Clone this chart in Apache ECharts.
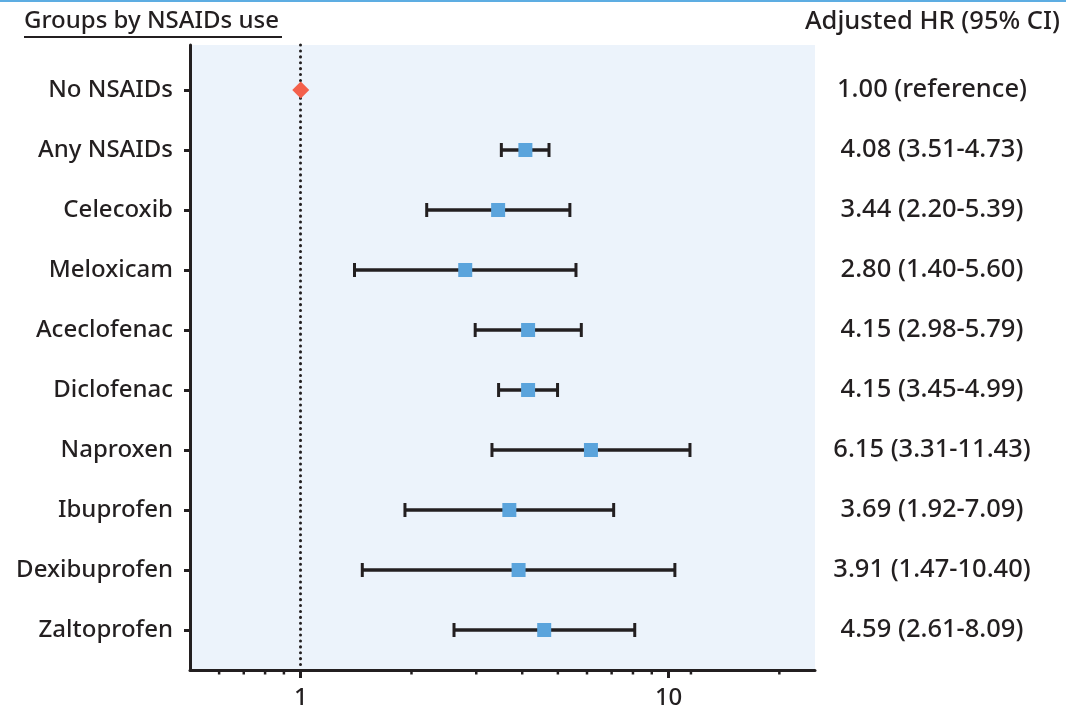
<!DOCTYPE html>
<html>
<head>
<meta charset="utf-8">
<script src="https://cdn.jsdelivr.net/npm/echarts@6/dist/echarts.min.js"></script>
<style>html,body{margin:0;padding:0;background:#fff;}#c{width:1066px;height:711px;}</style>
</head>
<body>
<div id="c"></div>
<script>
const categories = ['No NSAIDs','Any NSAIDs','Celecoxib','Meloxicam','Aceclofenac','Diclofenac','Naproxen','Ibuprofen','Dexibuprofen','Zaltoprofen'];
const hr   = [1.00, 4.08, 3.44, 2.80, 4.15, 4.15, 6.15, 3.69, 3.91, 4.59];
const low  = [null, 3.51, 2.20, 1.40, 2.98, 3.45, 3.31, 1.92, 1.47, 2.61];
const high = [null, 4.73, 5.39, 5.60, 5.79, 4.99, 11.43, 7.09, 10.40, 8.09];
const hrText = ['1.00 (reference)','4.08 (3.51-4.73)','3.44 (2.20-5.39)','2.80 (1.40-5.60)','4.15 (2.98-5.79)','4.15 (3.45-4.99)','6.15 (3.31-11.43)','3.69 (1.92-7.09)','3.91 (1.47-10.40)','4.59 (2.61-8.09)'];
const xMajorTicks = [1, 10];
const xMinorTicks = [0.6, 0.7, 0.8, 0.9, 2, 3, 4, 5, 6, 7, 8, 9, 11.5, 20];
const xMin = 0.5, xMax = 25;
const yMin = -0.75, yMax = 9.667;

const FONT = 'Noto Sans';
const FS = 24;
const FW = 500;
const INK = '#231f20';
const idx = categories.map((_, i) => i);

const chart = echarts.init(document.getElementById('c'));

const ciData = [];
for (let i = 0; i < categories.length; i++) {
  if (low[i] != null) ciData.push([low[i], high[i], i]);
}
const refData = [[hr[0], 0]];
const ptData = [];
for (let i = 1; i < categories.length; i++) ptData.push([hr[i], i]);

chart.setOption({
  animation: false,
  backgroundColor: '#fff',
  textStyle: { fontFamily: FONT },
  grid: { left: 190, right: 251, top: 45, bottom: 41, show: true, backgroundColor: '#ECF3FB', borderWidth: 0 },
  xAxis: {
    type: 'log', logBase: 10, min: xMin, max: xMax,
    axisLine: { show: true, onZero: false, lineStyle: { color: INK, width: 3 } },
    axisTick: { show: true, customValues: xMajorTicks, length: 8, lineStyle: { color: INK, width: 3 } },
    axisLabel: { customValues: xMajorTicks, fontSize: FS, fontWeight: FW, color: INK, fontFamily: FONT, margin: 16 },
    splitLine: { show: false }
  },
  yAxis: [{
    type: 'value', min: yMin, max: yMax, inverse: true, position: 'left',
    axisLine: { show: true, onZero: false, lineStyle: { color: INK, width: 3 } },
    axisTick: { show: true, customValues: idx, length: 6, lineStyle: { color: INK, width: 3 } },
    axisLabel: { customValues: idx, formatter: v => categories[Math.round(v)], fontSize: FS, fontWeight: FW, color: INK, fontFamily: FONT, margin: 17 },
    splitLine: { show: false }
  }, {
    type: 'value', min: yMin, max: yMax, inverse: true, position: 'right',
    axisLine: { show: false }, axisTick: { show: false },
    axisLabel: { customValues: idx, formatter: v => hrText[Math.round(v)], fontSize: 25.5, fontWeight: FW, color: INK, fontFamily: FONT, margin: 117, align: 'center' },
    splitLine: { show: false }
  }],
  series: [{
    type: 'custom',
    xAxisIndex: 0, yAxisIndex: 0,
    clip: false,
    silent: true,
    data: xMinorTicks.map(v => [v, yMax]),
    renderItem: function (params, api) {
      const p = api.coord([api.value(0), api.value(1)]);
      return { type: 'line', shape: { x1: p[0], y1: p[1], x2: p[0], y2: p[1] + 4.5 }, style: { stroke: INK, lineWidth: 2.5 } };
    },
    z: 5
  }, {
    type: 'custom',
    xAxisIndex: 0, yAxisIndex: 0,
    data: ciData,
    renderItem: function (params, api) {
      const a = api.coord([api.value(0), api.value(2)]);
      const b = api.coord([api.value(1), api.value(2)]);
      const h = 7;
      return {
        type: 'group',
        children: [
          { type: 'line', shape: { x1: a[0], y1: a[1], x2: b[0], y2: b[1] }, style: { stroke: INK, lineWidth: 3.5 } },
          { type: 'line', shape: { x1: a[0], y1: a[1] - h, x2: a[0], y2: a[1] + h }, style: { stroke: INK, lineWidth: 3 } },
          { type: 'line', shape: { x1: b[0], y1: b[1] - h, x2: b[0], y2: b[1] + h }, style: { stroke: INK, lineWidth: 3 } }
        ]
      };
    },
    z: 3
  }, {
    type: 'scatter',
    data: refData,
    symbol: 'diamond', symbolSize: 17,
    itemStyle: { color: '#F4604B', opacity: 1 },
    z: 4,
    markLine: {
      silent: true, symbol: 'none', label: { show: false },
      lineStyle: { color: INK, width: 3, type: [0.1, 5.8], cap: 'round' },
      data: [{ xAxis: 1 }],
      z: 2
    }
  }, {
    type: 'scatter',
    data: ptData,
    symbol: 'rect', symbolSize: 14,
    itemStyle: { color: '#5BA4DC', opacity: 1 },
    z: 4
  }],
  graphic: [
    { type: 'rect', left: 0, top: 0, shape: { width: 1066, height: 2 }, style: { fill: '#5DADE2' } },
    { type: 'text', left: 24, top: 9, style: { text: 'Groups by NSAIDs use', font: '500 24px "Noto Sans"', fill: INK } },
    { type: 'rect', left: 24, top: 36, shape: { width: 258, height: 2 }, style: { fill: INK } },
    { type: 'text', right: 6, top: 9, style: { text: 'Adjusted HR (95% CI)', font: '500 25.5px "Noto Sans"', fill: INK } }
  ]
});
</script>
</body>
</html>
